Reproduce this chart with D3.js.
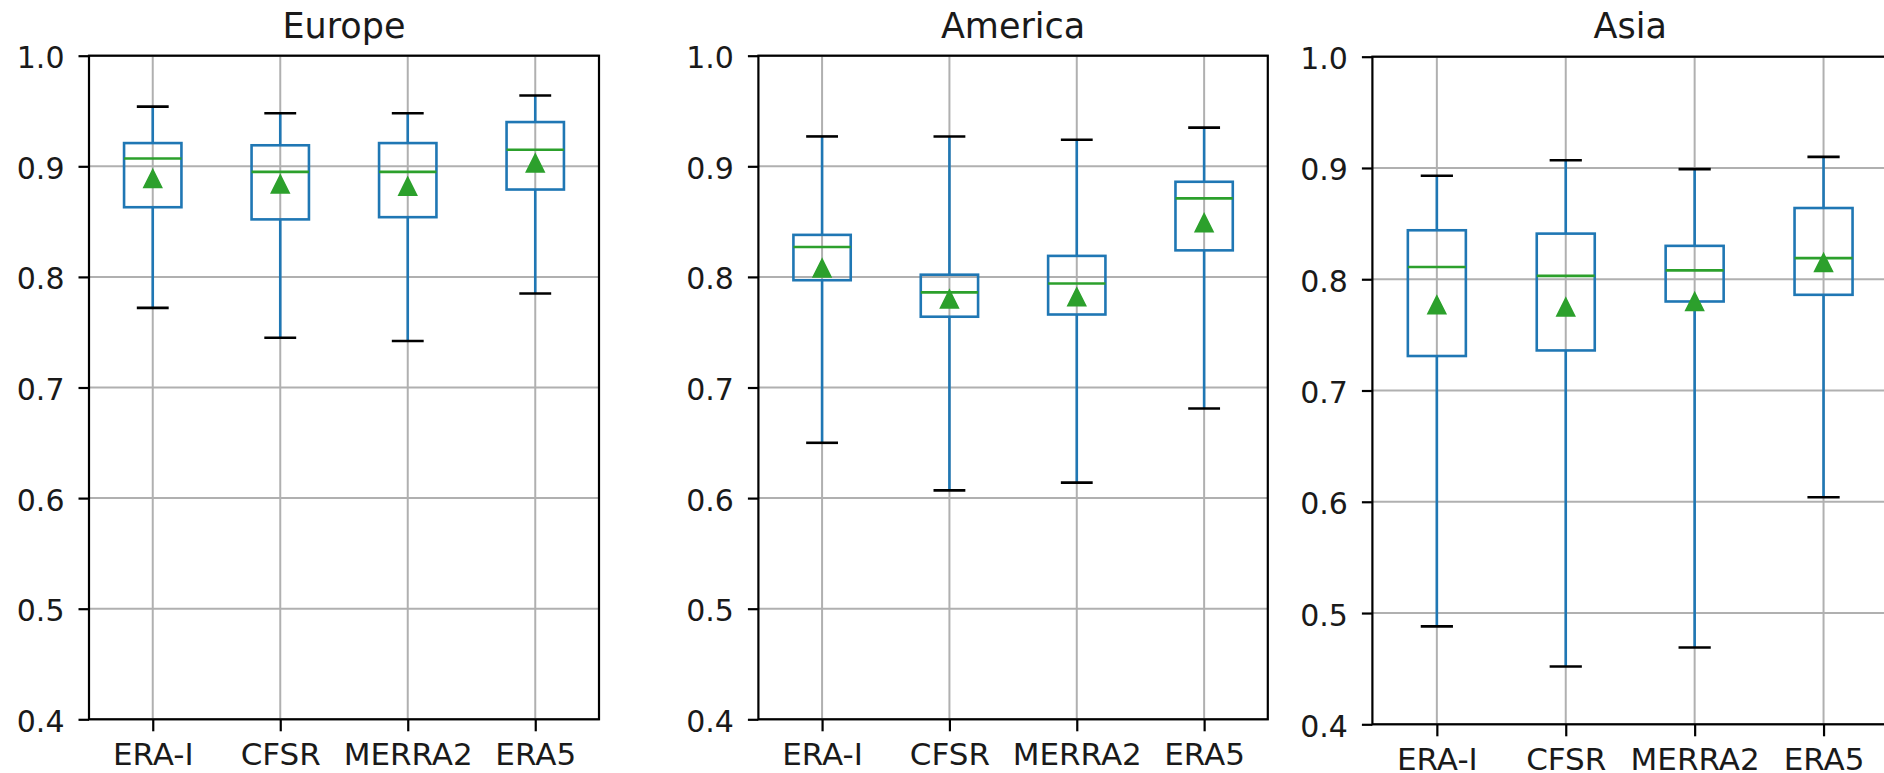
<!DOCTYPE html>
<html>
<head>
<meta charset="utf-8">
<script src="https://cdn.jsdelivr.net/npm/d3@7"></script>
<style>
  html, body { margin: 0; padding: 0; background: #fff; }
  svg { display: block; font-family: "DejaVu Sans", sans-serif; }
</style>
</head>
<body>
<svg id="chart" width="1884" height="773"></svg>
<script>
// ---- data ----
const categories = ["ERA-I", "CFSR", "MERRA2", "ERA5"];
const regions = ["Europe", "America", "Asia"];
const yTicks = [0.4, 0.5, 0.6, 0.7, 0.8, 0.9, 1.0];
const yDomain = [0.4, 1.0];

// per region (Europe, America, Asia), per category (ERA-I, CFSR, MERRA2, ERA5)
const whiskerLow  = [[0.772, 0.745, 0.742, 0.785], [0.650, 0.607, 0.614, 0.681], [0.488, 0.452, 0.469, 0.604]];
const q1          = [[0.863, 0.852, 0.854, 0.879], [0.797, 0.764, 0.766, 0.824], [0.731, 0.736, 0.780, 0.786]];
const median      = [[0.907, 0.895, 0.895, 0.915], [0.827, 0.786, 0.794, 0.871], [0.811, 0.803, 0.808, 0.819]];
const q3          = [[0.921, 0.919, 0.921, 0.940], [0.838, 0.802, 0.819, 0.886], [0.844, 0.841, 0.830, 0.864]];
const whiskerHigh = [[0.954, 0.948, 0.948, 0.964], [0.927, 0.927, 0.924, 0.935], [0.893, 0.907, 0.899, 0.910]];
const means       = [[0.889, 0.884, 0.882, 0.903], [0.808, 0.780, 0.782, 0.849], [0.777, 0.775, 0.780, 0.815]];

// ---- layout ----
const panels = [
  { left: 89,     right: 599,    top: 55.7, bottom: 719.3 },
  { left: 758.4,  right: 1267.8, top: 55.7, bottom: 719.3 },
  { left: 1372.4, right: 1888,   top: 56.7, bottom: 724.3 }
];

const BLUE = "#1f77b4", GREEN = "#2ca02c", GRID = "#b0b0b0";
const svg = d3.select("#chart");

panels.forEach((p, r) => {
  const x = d3.scalePoint().domain(categories).range([p.left, p.right]).padding(0.5);
  const y = d3.scaleLinear().domain(yDomain).range([p.bottom, p.top]);
  const step = x.step();
  const boxW = 0.45 * step;
  const capW = 0.25 * step;
  const g = svg.append("g");

  // grid
  g.append("g").selectAll("line").data(yTicks).join("line")
    .attr("x1", p.left).attr("x2", p.right)
    .attr("y1", d => y(d)).attr("y2", d => y(d))
    .attr("stroke", GRID).attr("stroke-width", 2);
  g.append("g").selectAll("line").data(categories).join("line")
    .attr("x1", d => x(d)).attr("x2", d => x(d))
    .attr("y1", p.top).attr("y2", p.bottom)
    .attr("stroke", GRID).attr("stroke-width", 2);

  // boxes
  const items = categories.map((c, i) => ({
    c, lo: whiskerLow[r][i], q1: q1[r][i], med: median[r][i],
    q3: q3[r][i], hi: whiskerHigh[r][i], mean: means[r][i]
  }));
  const bg = g.append("g").selectAll("g").data(items).join("g");

  // whiskers
  bg.append("line").attr("x1", d => x(d.c)).attr("x2", d => x(d.c))
    .attr("y1", d => y(d.q1)).attr("y2", d => y(d.lo))
    .attr("stroke", BLUE).attr("stroke-width", 2.6);
  bg.append("line").attr("x1", d => x(d.c)).attr("x2", d => x(d.c))
    .attr("y1", d => y(d.q3)).attr("y2", d => y(d.hi))
    .attr("stroke", BLUE).attr("stroke-width", 2.6);
  // caps
  bg.append("line").attr("x1", d => x(d.c) - capW / 2).attr("x2", d => x(d.c) + capW / 2)
    .attr("y1", d => y(d.lo)).attr("y2", d => y(d.lo))
    .attr("stroke", "#000").attr("stroke-width", 2.6);
  bg.append("line").attr("x1", d => x(d.c) - capW / 2).attr("x2", d => x(d.c) + capW / 2)
    .attr("y1", d => y(d.hi)).attr("y2", d => y(d.hi))
    .attr("stroke", "#000").attr("stroke-width", 2.6);
  // box
  bg.append("rect").attr("x", d => x(d.c) - boxW / 2).attr("width", boxW)
    .attr("y", d => y(d.q3)).attr("height", d => y(d.q1) - y(d.q3))
    .attr("fill", "none").attr("stroke", BLUE).attr("stroke-width", 2.6);
  // median
  bg.append("line").attr("x1", d => x(d.c) - boxW / 2).attr("x2", d => x(d.c) + boxW / 2)
    .attr("y1", d => y(d.med)).attr("y2", d => y(d.med))
    .attr("stroke", GREEN).attr("stroke-width", 2.6);
  // mean marker (matplotlib '^')
  const t = 9;
  bg.append("path")
    .attr("d", d => `M${x(d.c)},${y(d.mean) - t} L${x(d.c) - t},${y(d.mean) + t} L${x(d.c) + t},${y(d.mean) + t} Z`)
    .attr("fill", GREEN).attr("stroke", GREEN).attr("stroke-width", 1.5).attr("stroke-linejoin", "miter");

  // spines
  g.append("rect").attr("x", p.left).attr("y", p.top)
    .attr("width", p.right - p.left).attr("height", p.bottom - p.top)
    .attr("fill", "none").attr("stroke", "#000").attr("stroke-width", 2.2);

  // axes
  const ya = g.append("g").attr("transform", `translate(${p.left},0)`)
    .call(d3.axisLeft(y).tickValues(yTicks).tickFormat(d3.format(".1f")).tickSize(10.5).tickPadding(14));
  ya.select(".domain").remove();
  ya.selectAll(".tick line").attr("stroke", "#000").attr("stroke-width", 2.2);
  ya.selectAll(".tick text").attr("font-size", 30).attr("fill", "#1a1a1a")
    .attr("font-family", "DejaVu Sans").attr("dy", "0.40em");

  const xa = g.append("g").attr("transform", `translate(0,${p.bottom})`)
    .call(d3.axisBottom(x).tickSize(12).tickPadding(12));
  xa.select(".domain").remove();
  xa.selectAll(".tick line").attr("stroke", "#000").attr("stroke-width", 2.2);
  xa.selectAll(".tick text").attr("font-size", 31).attr("fill", "#1a1a1a")
    .attr("font-family", "DejaVu Sans");

  // title
  g.append("text").attr("x", (p.left + p.right) / 2).attr("y", 37.5)
    .attr("text-anchor", "middle").attr("font-size", 35).attr("fill", "#1a1a1a")
    .text(regions[r]);
});
</script>
</body>
</html>
